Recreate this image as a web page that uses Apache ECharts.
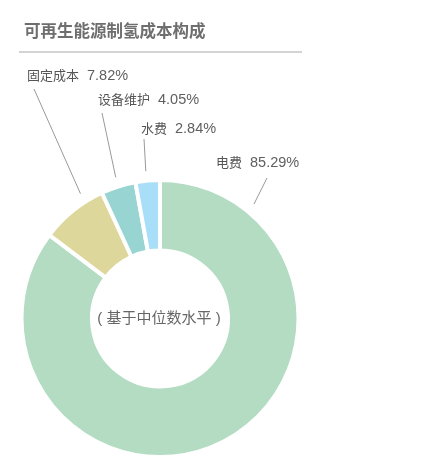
<!DOCTYPE html>
<html>
<head>
<meta charset="utf-8">
<script src="https://cdn.jsdelivr.net/npm/echarts@6/dist/echarts.min.js"></script>
<style>
    html, body { margin: 0; padding: 0; background: #fff; }
    #chart { width: 431px; height: 465px; }
</style>
</head>
<body>
<div id="chart"></div>
<script>
// 数据
var categories = ['电费', '固定成本', '设备维护', '水费'];
var shares = [85.29, 7.82, 4.05, 2.84];   // %
var colors = ['#b3dcc3', '#ddd79c', '#98d5d2', '#a9def8'];

// 标签摆放 (文字左侧中点, 引线终点, 引线起点角度)
var labelSpots = [
    { x: 216, y: 163, endX: 267, endY: 178, angle: 50.6 },
    { x: 27, y: 76, endX: 34, endY: 89, angle: 122.5 },
    { x: 98, y: 100, endX: 102, endY: 113, angle: 107.4 },
    { x: 141, y: 129, endX: 144, endY: 139, angle: 95.5 }
];

var font = '"Liberation Sans", "Noto Sans CJK SC", sans-serif';
var cx = 160, cy = 318.5;

void function () {
    var myChart = echarts.init(document.getElementById('chart'));

    var pieData = [];
    for (var i = 0; i < categories.length; i++) {
        pieData.push({ name: categories[i], value: shares[i], itemStyle: { color: colors[i] } });
    }

    var option = {
        animation: false,
        title: {
            text: '可再生能源制氢成本构成',
            left: 19,
            top: 19,
            textStyle: { fontSize: 16.5, fontWeight: 'bold', color: '#6e6e6e', fontFamily: font }
        },
        graphic: [{
            type: 'line',
            shape: { x1: 19, y1: 52, x2: 302, y2: 52 },
            style: { stroke: '#aaa', lineWidth: 1.2 }
        }, {
            type: 'text',
            x: cx - 1,
            y: cy,
            style: {
                text: '( 基于中位数水平 )',
                font: '15px ' + font,
                fill: '#666',
                align: 'center',
                verticalAlign: 'middle'
            }
        }],
        series: [{
            type: 'pie',
            center: [cx, cy],
            radius: [68, 138.5],
            startAngle: 90,
            clockwise: true,
            avoidLabelOverlap: false,
            itemStyle: { borderColor: '#fff', borderWidth: 4 },
            label: {
                show: true,
                position: 'outside',
                formatter: function (p) {
                    return '{n|' + p.name + '}{v|' + p.value.toFixed(2) + '%}';
                },
                rich: {
                    n: { fontSize: 13, color: '#555', fontFamily: font, padding: [0, 8, 0, 0] },
                    v: { fontSize: 14.5, color: '#5f5f5f', fontFamily: font }
                }
            },
            labelLine: {
                show: true,
                length: 10,
                length2: 10,
                lineStyle: { color: '#999', width: 1 }
            },
            labelLayout: function (params) {
                var s = labelSpots[params.dataIndex];
                var a = s.angle * Math.PI / 180;
                var r = 148;
                return {
                    x: s.x,
                    y: s.y,
                    align: 'left',
                    verticalAlign: 'middle',
                    labelLinePoints: [
                        [cx + r * Math.cos(a), cy - r * Math.sin(a)],
                        [s.endX, s.endY]
                    ]
                };
            },
            emphasis: { disabled: true },
            data: pieData
        }]
    };

    myChart.setOption(option);
}()
</script>
</body>
</html>
